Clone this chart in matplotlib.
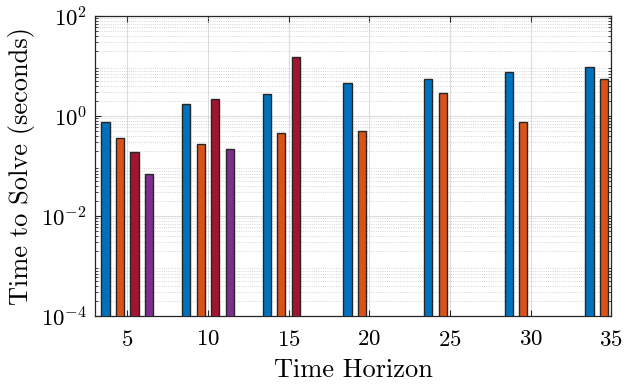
import numpy as np
import matplotlib
matplotlib.use("Agg")
import matplotlib.pyplot as plt
from matplotlib.ticker import LogLocator, NullFormatter

# Solve times (seconds) for each horizon, one array per solver
horizons = [5, 10, 15, 20, 25, 30, 35]
solver_a = [0.76, 1.74, 2.7, 4.6, 5.6, 7.7, 9.7]
solver_b = [0.36, 0.27, 0.46, 0.49, 2.9, 0.76, 5.4]
solver_c = [0.19, 2.15, 14.9, np.nan, np.nan, np.nan, np.nan]
solver_d = [0.069, 0.22, np.nan, np.nan, np.nan, np.nan, np.nan]

y_ticks = [1e-4, 1e-2, 1e0, 1e2]
y_ticklabels = [r'$10^{-4}$', r'$10^{-2}$', r'$10^{0}$', r'$10^{2}$']

series = [solver_a, solver_b, solver_c, solver_d]
colors = ['#0072BD', '#D95319', '#A2142F', '#7E2F8E']
offsets = [-1.35, -0.45, 0.45, 1.35]
bar_w = 0.5

plt.rcParams['font.family'] = 'cmr10'
plt.rcParams['mathtext.fontset'] = 'cm'
plt.rcParams['axes.formatter.use_mathtext'] = True

fig = plt.figure(figsize=(6.25, 3.87), dpi=100)
ax = fig.add_axes([0.152, 0.1835, 0.826, 0.7752])
ax.set_yscale('log')

x = np.array(horizons, dtype=float)
for vals, col, off in zip(series, colors, offsets):
    v = np.array(vals, dtype=float)
    ok = ~np.isnan(v)
    ax.bar(x[ok] + off, v[ok], width=bar_w, bottom=1e-6, color=col,
           edgecolor='#262626', linewidth=1.0, zorder=3)

ax.set_xlim(3.0, 35.0)
ax.set_ylim(1e-4, 1e2)
ax.set_xticks(horizons)
ax.yaxis.set_minor_locator(LogLocator(base=10, subs=np.arange(2, 10), numticks=20))
ax.yaxis.set_minor_formatter(NullFormatter())
ax.set_yticks(y_ticks)
ax.set_yticklabels(y_ticklabels)

ax.grid(True, which='major', color='#dcdcdc', linestyle='-', linewidth=0.8, zorder=0)
ax.grid(True, which='minor', axis='y', color='#c8c8c8', linestyle=':', linewidth=0.6, zorder=0)
ax.set_axisbelow(True)

ax.tick_params(which='both', direction='in', top=True, right=True,
               labelsize=16.5, color='#262626')
ax.tick_params(which='major', length=4, width=0.8)
ax.tick_params(which='minor', length=2.5, width=0.6)
ax.tick_params(axis='x', which='major', pad=9.8)
ax.tick_params(axis='y', which='major', pad=5.8)
for s in ax.spines.values():
    s.set_color('#262626')
    s.set_linewidth(0.9)

ax.set_xlabel('Time Horizon', fontsize=19, labelpad=6)
ax.set_ylabel('Time to Solve (seconds)', fontsize=19, labelpad=4)

fig.savefig('out.png', dpi=100)
